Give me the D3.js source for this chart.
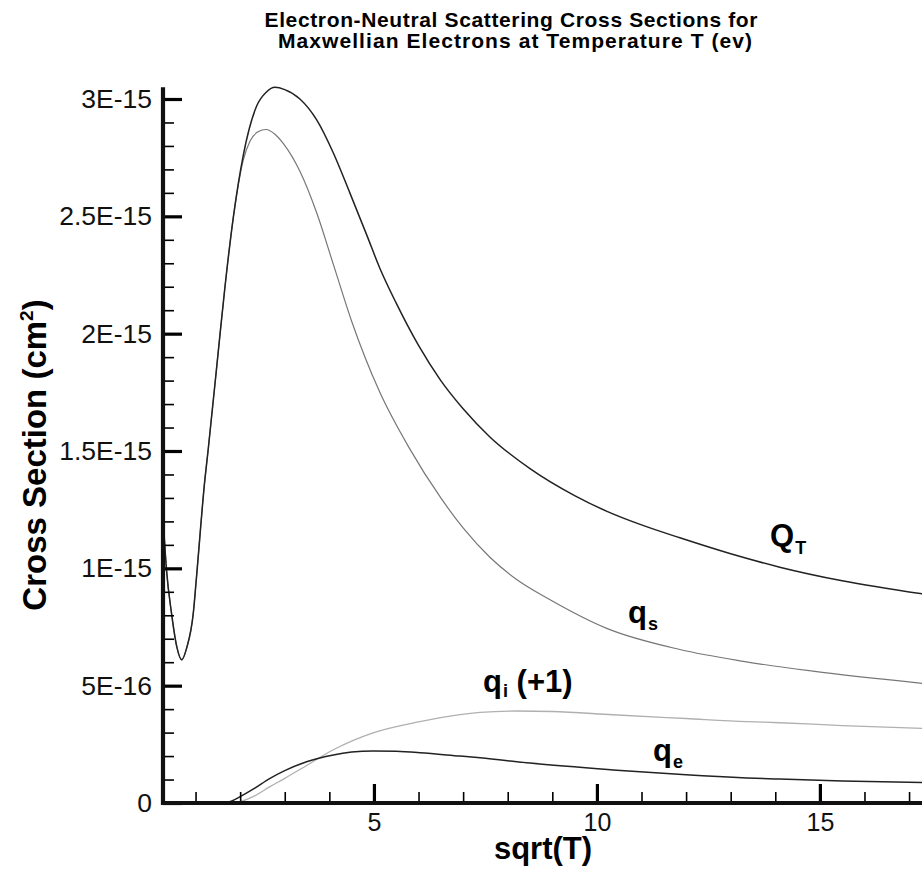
<!DOCTYPE html>
<html lang="en">

<head>
  <meta charset="UTF-8">
  <title>Electron-Neutral Scattering Cross Sections</title>
  <script src="https://d3js.org/d3.v7.min.js"></script>
  <style>
    body {
      margin: 0;
      background: white;
    }

    svg {
      display: block;
      font-family: "Liberation Sans", Arial, sans-serif;
    }
  </style>
</head>

<body>
  <div id="chart"></div>
  <script>
    // values are cross sections in units of 1E-16 cm^2, x is sqrt(T)
    const qtX = [0.27, 0.35, 0.46, 0.58, 0.69, 0.8, 0.95, 1.02, 1.21, 1.28, 1.55, 1.66, 1.85, 2.07, 2.37, 2.59, 2.78, 3.0, 3.34, 3.72, 4.09, 4.46, 4.84, 5.13, 5.5, 6.0, 6.5, 7.0, 7.6, 8.5, 9.5, 10.2, 11.0, 11.86, 13.0, 14.1, 15.5, 17.3]
    const qtY = [12.2, 9.9, 8.1, 6.65, 6.1, 6.6, 8.1, 9.6, 13.8, 15.0, 20.0, 22.0, 25.0, 27.6, 29.7, 30.3, 30.5, 30.4, 30.0, 29.1, 27.7, 26.0, 24.2, 22.8, 21.3, 19.5, 18.0, 16.8, 15.6, 14.25, 13.1, 12.45, 11.85, 11.3, 10.62, 10.05, 9.47, 8.91]

    const qsX = [0.27, 0.35, 0.46, 0.58, 0.69, 0.8, 0.95, 1.02, 1.21, 1.28, 1.55, 1.66, 1.85, 2.07, 2.22, 2.4, 2.58, 2.78, 2.97, 3.34, 3.72, 4.09, 4.5, 5.13, 5.8, 6.5, 7.0, 7.6, 8.2, 8.95, 10.22, 11.86, 13.2, 14.84, 17.3]
    const qsY = [12.2, 9.9, 8.1, 6.65, 6.1, 6.6, 8.1, 9.6, 13.8, 15.0, 20.0, 22.0, 25.0, 27.4, 28.2, 28.6, 28.7, 28.5, 28.1, 26.92, 25.13, 22.95, 20.53, 17.51, 15.1, 13.0, 11.72, 10.47, 9.52, 8.66, 7.44, 6.54, 6.06, 5.62, 5.1]

    const qiX = [1.62, 2.0, 2.3, 2.67, 3.0, 3.49, 4.09, 4.98, 6.03, 6.93, 7.38, 8.2, 9.0, 10.36, 12.0, 13.36, 14.1, 15.5, 17.3]
    const qiY = [0, 0.06, 0.28, 0.7, 1.05, 1.6, 2.27, 2.99, 3.47, 3.77, 3.86, 3.92, 3.9, 3.76, 3.6, 3.47, 3.42, 3.3, 3.18]

    const qeX = [1.62, 1.8, 2.0, 2.3, 2.67, 3.0, 3.49, 4.09, 4.5, 4.98, 5.5, 6.03, 6.93, 7.38, 8.5, 10.36, 12.0, 13.36, 14.1, 15.5, 17.3]
    const qeY = [0, 0.08, 0.27, 0.6, 1.05, 1.38, 1.76, 2.05, 2.17, 2.22, 2.2, 2.14, 2.0, 1.93, 1.7, 1.41, 1.2, 1.07, 1.02, 0.94, 0.87]

    const yMajor = [0, 5, 10, 15, 20, 25, 30]
    const yLabels = ['0', '5E-16', '1E-15', '1.5E-15', '2E-15', '2.5E-15', '3E-15']
    const xMajor = [5, 10, 15]
    const xMinor = [1, 2, 3, 4, 6, 7, 8, 9, 11, 12, 13, 14, 16, 17]
    const yMinor = d3.range(1, 30).filter(d => d % 5 !== 0)
    const titleLines = ['Electron-Neutral Scattering Cross Sections for', 'Maxwellian Electrons at Temperature T (ev)']

    const width = 922
    const height = 871

    const x = d3.scaleLinear().domain([0.27, 17.29]).range([163, 922])
    const y = d3.scaleLinear().domain([0, 30]).range([803, 99])

    const svg = d3.select('#chart')
      .append('svg')
      .attr('width', width)
      .attr('height', height)

    // title
    const title = svg.append('text')
      .attr('font-weight', 'bold')
      .attr('font-size', 21)
      .attr('text-anchor', 'middle')
    title.append('tspan').attr('x', 511).attr('y', 27)
      .attr('textLength', 493).attr('lengthAdjust', 'spacing')
      .text(titleLines[0])
    title.append('tspan').attr('x', 515).attr('y', 48)
      .attr('textLength', 474).attr('lengthAdjust', 'spacing')
      .text(titleLines[1])

    // curves
    const line = d3.line()
      .x(d => x(d[0]))
      .y(d => y(d[1]))
      .curve(d3.curveMonotoneX)

    const series = [
      { xs: qiX, ys: qiY, color: '#b0b0b0', w: 1.3 },
      { xs: qsX, ys: qsY, color: '#777', w: 1.2 },
      { xs: qeX, ys: qeY, color: '#222', w: 1.5 },
      { xs: qtX, ys: qtY, color: '#222', w: 1.5 }
    ]

    series.forEach(s => {
      svg.append('path')
        .datum(d3.zip(s.xs, s.ys))
        .attr('fill', 'none')
        .attr('stroke', s.color)
        .attr('stroke-width', s.w)
        .attr('d', line)
    })

    // axes
    const xAxisMajor = d3.axisBottom(x).tickValues(xMajor).tickSizeInner(-19).tickSizeOuter(0).tickPadding(10)
    const xAxisMinor = d3.axisBottom(x).tickValues(xMinor).tickSizeInner(-11).tickSizeOuter(0).tickFormat('')
    const yAxisMajor = d3.axisLeft(y).tickValues(yMajor).tickSizeInner(-19).tickSizeOuter(0).tickPadding(11)
      .tickFormat((d, i) => yLabels[i])
    const yAxisMinor = d3.axisLeft(y).tickValues(yMinor).tickSizeInner(-11).tickSizeOuter(0).tickFormat('')

    const gx = svg.append('g').attr('transform', 'translate(0,803)')
    gx.append('g').call(xAxisMinor).selectAll('line').attr('stroke-width', 1.6)
    gx.append('g').call(xAxisMajor).selectAll('line').attr('stroke-width', 3.2)

    const gy = svg.append('g').attr('transform', 'translate(163,0)')
    gy.append('g').call(yAxisMinor).selectAll('line').attr('stroke-width', 1.6)
    gy.append('g').call(yAxisMajor).selectAll('line').attr('stroke-width', 3.2)

    svg.selectAll('.domain').remove()
    gx.selectAll('.tick text').attr('font-size', 25)
    gy.selectAll('.tick text').attr('font-size', 26.5)
    svg.selectAll('.tick text')
      .attr('font-family', '"Liberation Sans", Arial, sans-serif')
      .attr('fill', '#111')

    svg.append('line')
      .attr('x1', 163).attr('x2', 163)
      .attr('y1', y(30.5)).attr('y2', 805)
      .attr('stroke', '#111').attr('stroke-width', 4.2)
    svg.append('line')
      .attr('x1', 161).attr('x2', 922)
      .attr('y1', 803).attr('y2', 803)
      .attr('stroke', '#111').attr('stroke-width', 4.2)

    // axis titles
    svg.append('text')
      .attr('x', 543)
      .attr('y', 859)
      .attr('text-anchor', 'middle')
      .attr('font-weight', 'bold')
      .attr('font-size', 31)
      .text('sqrt(T)')

    const yTitle = svg.append('text')
      .attr('transform', 'translate(46,455) rotate(-90)')
      .attr('text-anchor', 'middle')
      .attr('font-weight', 'bold')
      .attr('font-size', 33)
    yTitle.append('tspan').text('Cross Section (cm')
    yTitle.append('tspan').attr('font-size', 19).attr('dy', -13).text('2')
    yTitle.append('tspan').attr('dy', 13).text(')')

    // curve labels
    const labels = [
      { main: 'Q', sub: 'T', rest: '', x: 770, y: 546, subDy: 8 },
      { main: 'q', sub: 's', rest: '', x: 628, y: 623, subDy: 7 },
      { main: 'q', sub: 'i', rest: ' (+1)', x: 483, y: 692, subDy: 5 },
      { main: 'q', sub: 'e', rest: '', x: 653, y: 761, subDy: 7 }
    ]

    labels.forEach(l => {
      const t = svg.append('text')
        .attr('x', l.x)
        .attr('y', l.y)
        .attr('font-weight', 'bold')
        .attr('font-size', 31)
      t.append('tspan').text(l.main)
      t.append('tspan').attr('font-size', 18).attr('dy', l.subDy).attr('dx', 1).text(l.sub)
      if (l.rest) t.append('tspan').attr('dy', -l.subDy).text(l.rest)
    })
  </script>
</body>

</html>
